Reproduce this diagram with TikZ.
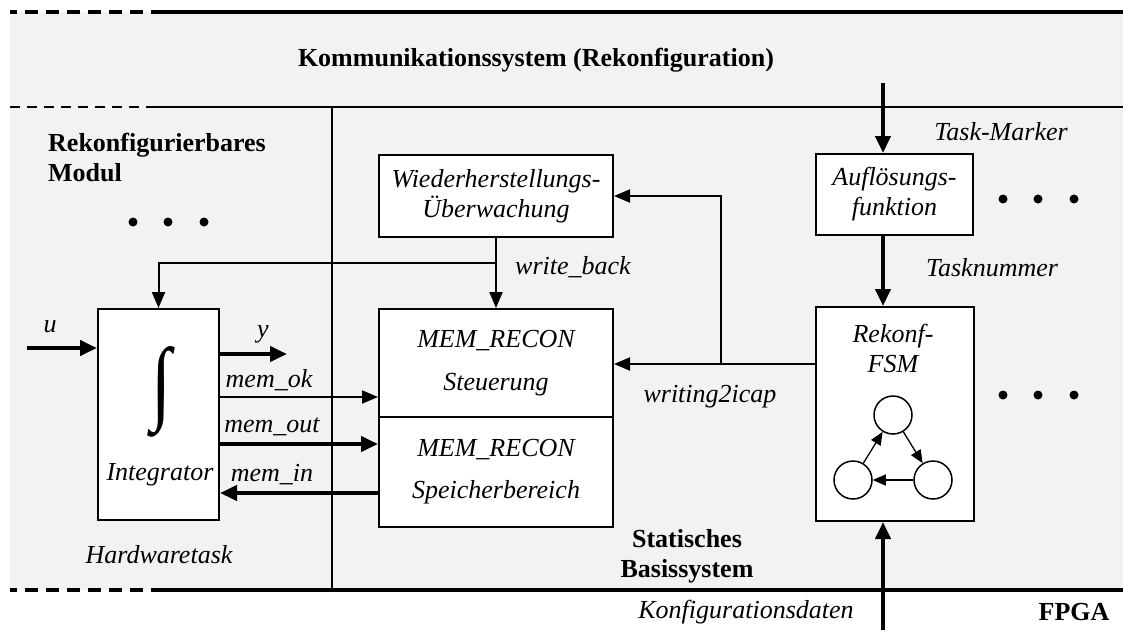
\documentclass[tikz,border=0pt]{standalone}
\usepackage{fontspec}
\setmainfont{Liberation Serif}
\usetikzlibrary{arrows.meta}
\begin{document}
\begin{tikzpicture}[x=1pt,y=-1pt,
  every node/.style={font=\fontsize{26}{30}\selectfont, inner sep=0pt},
  lab/.style={font=\fontsize{26}{30}\selectfont\itshape},
  ttl/.style={font=\fontsize{26}{30}\selectfont\bfseries},
  box/.style={draw, line width=2pt, fill=white, align=center,
              font=\fontsize{26}{30}\selectfont\itshape},
  sig/.style={line width=2pt, -{Triangle[length=16pt,width=13pt]}},
  bus/.style={line width=4pt, -{Triangle[length=17pt,width=15pt]}},
  state/.style={draw, circle, line width=1.5pt, fill=white, minimum size=38pt},
  trans/.style={line width=1.3pt, -{Triangle[length=13pt,width=11pt]}},
  dot/.style={fill=black, circle, minimum size=9pt},
]
\useasboundingbox (0,0) rectangle (1123,630);
% shaded FPGA area
\fill[black!5] (10,12) rectangle (1123,590);

% region borders
\draw[line width=3.5pt, dash pattern=on 13pt off 8pt, dash phase=6pt] (10,12) -- (153,12);
\draw[line width=3.5pt] (153,12) -- (1123,12);
\draw[line width=2pt, dash pattern=on 10pt off 7pt] (10,107) -- (153,107);
\draw[line width=2pt] (153,107) -- (1123,107);
\draw[line width=3.5pt, dash pattern=on 13pt off 8pt, dash phase=6pt] (10,590) -- (153,590);
\draw[line width=3.5pt] (153,590) -- (1123,590);
\draw[line width=2pt] (332,107) -- (332,590);

% region titles
\node[ttl] (komm) at (536,60) {Kommunikationssystem (Rekonfiguration)};
\node[ttl, anchor=west, align=left] (rmod) at (48,157) {Rekonfigurierbares\\Modul};
\node[ttl, align=center] (stat) at (687,556) {Statisches\\Basissystem};
\node[ttl] (fpga) at (1074,612) {FPGA};

% ellipses
\foreach \i/\x in {1/133,2/168,3/204} \node[dot] (ld\i) at (\x,222) {};
\foreach \i/\x in {1/1003,2/1038,3/1074} {
  \node[dot] (ru\i) at (\x,199) {};
  \node[dot] (rl\i) at (\x,395) {};
}

% blocks
\node[box, minimum width=121pt, minimum height=211pt] (int) at (158.5,414.5) {};
\node (intsym) at (161,392) {\resizebox{20pt}{66pt}{∫}};
\node[lab] (intlab) at (160,475) {Integrator};
\node[lab] (hwt) at (159,555) {Hardwaretask};

\node[box, minimum width=234pt, minimum height=82pt] (wh) at (496,196)
  {Wiederherstellungs-\\Überwachung};
\node[box, minimum width=234pt, minimum height=108pt] (mem1) at (496,363)
  {MEM\_RECON\\[13pt]Steuerung};
\node[box, minimum width=234pt, minimum height=110pt] (mem2) at (496,472)
  {MEM\_RECON\\[12pt]Speicherbereich};

\node[box, minimum width=157pt, minimum height=81pt] (auf) at (894.5,194.5)
  {Auflösungs-\\funktion};
\node[box, minimum width=158pt, minimum height=214pt] (fsm) at (895,414) {};
\node[lab, align=center] (fsmlab) at (893,348) {Rekonf-\\FSM};

% state machine symbol
\node[state] (s1) at (893,415) {};
\node[state] (s2) at (933,480) {};
\node[state] (s3) at (853,480) {};
\draw[trans] (s1) -- (s2);
\draw[trans] (s2) -- (s3);
\draw[trans] (s3) -- (s1);

% helper coordinates
\coordinate (uin) at (27,348);
\coordinate (yout) at (287,354);
\coordinate (okY) at (0,397);
\coordinate (outY) at (0,444);
\coordinate (inY) at (0,493);
\coordinate (w2i) at (721,364);
\coordinate (tm) at (883,83);
\coordinate (kd) at (883,630);
\path (wh.south) ++(0,25) coordinate (wb);

% integrator signals
\draw[bus] (uin) -- (int.west |- uin);
\draw[bus] (int.east |- yout) -- (yout);
\draw[sig] (int.east |- okY) -- (mem1.west |- okY);
\draw[bus] (int.east |- outY) -- (mem2.west |- outY);
\draw[bus] (mem2.west |- inY) -- (int.east |- inY);
\node[lab] (ul) at (50,327) {u};
\node[lab] (yl) at (263,334) {y};
\node[lab] (okl) at (269,380) {mem\_ok};
\node[lab] (outl) at (272,427) {mem\_out};
\node[lab] (inl) at (272,475) {mem\_in};

% write back path
\draw[sig] (wh.south) -- (mem1.north);
\draw[sig] (wb) -| (int.north);
\node[lab] (wbl) at (573,267) {write\_back};

% writing2icap path
\draw[sig] (fsm.west |- w2i) -- (mem1.east |- w2i);
\draw[sig] (w2i) |- (wh.east);
\node[lab] (w2il) at (710,397) {writing2icap};

% reconfiguration control path
\draw[bus] (tm) -- (tm |- auf.north);
\node[lab] (tml) at (1001,132) {Task-Marker};
\draw[bus] (auf.south -| tm) -- (fsm.north -| tm);
\node[lab] (tnl) at (992,268) {Tasknummer};
\draw[bus] (kd) -- (kd |- fsm.south);
\node[lab] (kdl) at (746,612) {Konfigurationsdaten};
\end{tikzpicture}
\end{document}
